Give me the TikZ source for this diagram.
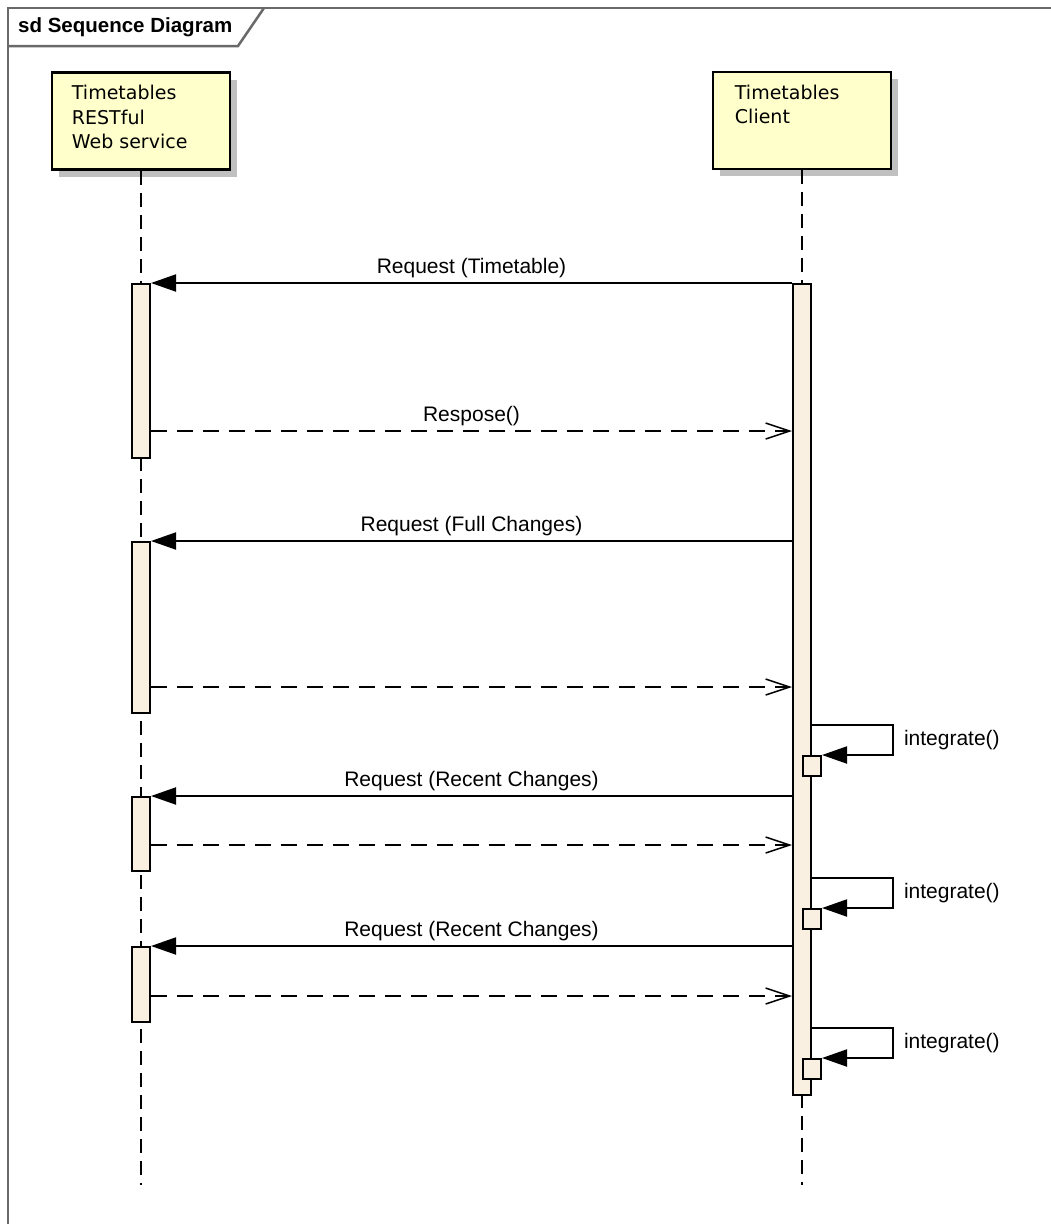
\documentclass[tikz,border=0pt]{standalone}
\usepackage{fontspec}
\setmainfont{Liberation Sans}
\newfontfamily\boxfont{DejaVu Sans}
\usetikzlibrary{arrows.meta,shadows}
\definecolor{boxyellow}{RGB}{255,255,204}
\definecolor{actfill}{RGB}{250,240,226}
\definecolor{shadowgray}{RGB}{192,192,192}
\definecolor{framegray}{RGB}{105,105,105}
\begin{document}
\begin{tikzpicture}[x=1pt,y=-1pt,
		every node/.style={inner sep=0pt},
		lifebox/.style={draw=black,line width=2.5pt,fill=boxyellow,minimum width=178pt,minimum height=97pt,
			drop shadow={shadow xshift=7pt,shadow yshift=-7pt,fill=shadowgray,opacity=1}},
		boxtext/.style={anchor=north west,align=left,font=\boxfont\fontsize{19}{24.5}\selectfont},
		lifeline/.style={line width=2pt,dash pattern=on 14pt off 8pt},
		act/.style={draw=black,line width=2pt,fill=actfill,minimum width=18pt,anchor=north},
		msg/.style={line width=2pt,-{Triangle[length=25pt,width=17pt]}},
		reply/.style={line width=2pt,dash pattern=on 16pt off 10pt,-{Straight Barb[length=24pt,width=16pt,line width=1.5pt]}},
		msglabel/.style={above,inner sep=4pt,font=\fontsize{21}{24}\selectfont},
		calllabel/.style={right=10pt,font=\fontsize{21}{24}\selectfont},
		frame/.style={draw=framegray,line width=2.5pt}]
		\useasboundingbox (0,0) rectangle (1051,1224);
		% frame and tab
		\draw[frame] (8,1224) -- (8,8) -- (1051,8);
		\draw[frame] (8,46) -- (238,46) -- (264,8);
		\node[anchor=west,font=\bfseries\fontsize{20.5}{24}\selectfont] (title) at (18,27) {sd Sequence Diagram};
		% lifelines
		\node[lifebox] (svc) at (141,121) {};
		\node[boxtext] (svclbl) at ([xshift=21pt,yshift=-14pt]svc.north west) {Timetables\\RESTful\\Web service};
		\node[lifebox] (cli) at (802,120.5) {};
		\node[boxtext] (clilbl) at ([xshift=23pt,yshift=-14pt]cli.north west) {Timetables\\Client};
		\coordinate (svcend) at (141,1185);
		\coordinate (cliend) at (802,1185);
		\draw[lifeline] (svc.south) -- (svcend);
		\draw[lifeline] (cli.south) -- (cliend);
		% activations
		\node[act,minimum height=174pt] (a1) at (141,283) {};
		\node[act,minimum height=171pt] (a2) at (141,541) {};
		\node[act,minimum height=74pt] (a3) at (141,796) {};
		\node[act,minimum height=75pt] (a4) at (141,946) {};
		\node[act,minimum height=811pt] (c) at (802,283) {};
		\node[act,minimum height=20pt] (i1) at (812,755) {};
		\node[act,minimum height=20pt] (i2) at (812,908) {};
		\node[act,minimum height=20pt] (i3) at (812,1058) {};
		% requests
		\draw[msg] (a1.north -| c.west) -- node[msglabel] {Request (Timetable)} (a1.north east);
		\draw[msg] (a2.north -| c.west) -- node[msglabel] {Request (Full Changes)} (a2.north east);
		\draw[msg] (a3.north -| c.west) -- node[msglabel] {Request (Recent Changes)} (a3.north east);
		\draw[msg] (a4.north -| c.west) -- node[msglabel] {Request (Recent Changes)} (a4.north east);
		% replies
		\coordinate (r1) at ([yshift=28pt]a1.south east);
		\coordinate (r2) at ([yshift=27pt]a2.south east);
		\coordinate (r3) at ([yshift=27pt]a3.south east);
		\coordinate (r4) at ([yshift=27pt]a4.south east);
		\draw[reply] (r1) -- node[msglabel] {Respose()} (r1 -| c.west);
		\draw[reply] (r2) -- (r2 -| c.west);
		\draw[reply] (r3) -- (r3 -| c.west);
		\draw[reply] (r4) -- (r4 -| c.west);
		% self calls
		\draw[msg] ([yshift=30pt]i1.north -| c.east) -- ++(81,0) |- node[pos=0.25,calllabel] {integrate()} (i1.north east);
		\draw[msg] ([yshift=30pt]i2.north -| c.east) -- ++(81,0) |- node[pos=0.25,calllabel] {integrate()} (i2.north east);
		\draw[msg] ([yshift=30pt]i3.north -| c.east) -- ++(81,0) |- node[pos=0.25,calllabel] {integrate()} (i3.north east);
	\end{tikzpicture}
\end{document}
